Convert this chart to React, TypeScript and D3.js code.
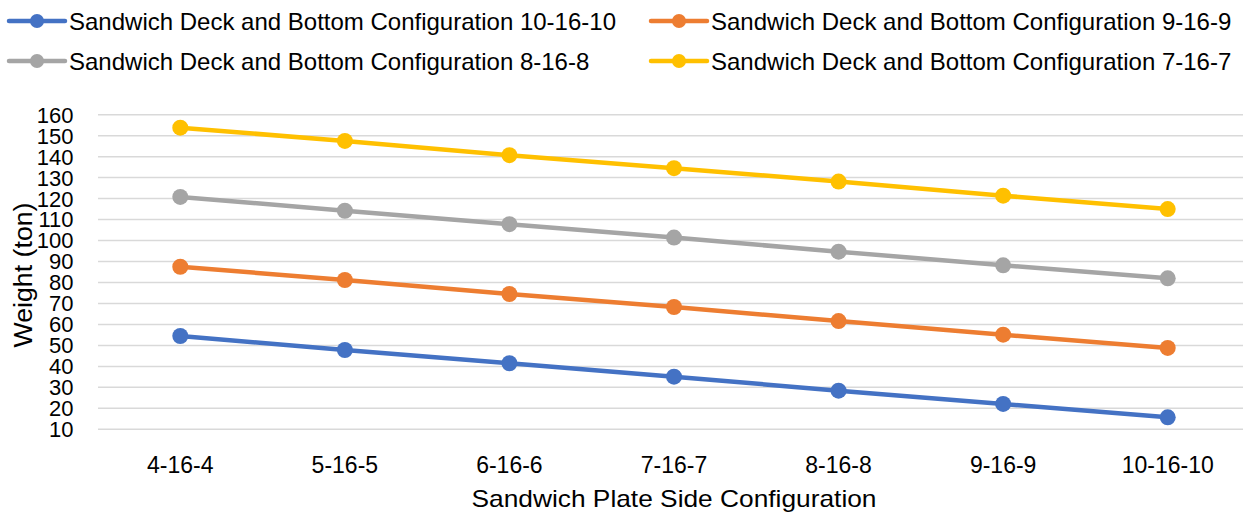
import React from "react";
import * as d3 from "d3";

const categories = ["4-16-4", "5-16-5", "6-16-6", "7-16-7", "8-16-8", "9-16-9", "10-16-10"];
const seriesNames = [
  "Sandwich Deck and Bottom Configuration 10-16-10",
  "Sandwich Deck and Bottom Configuration 9-16-9",
  "Sandwich Deck and Bottom Configuration 8-16-8",
  "Sandwich Deck and Bottom Configuration 7-16-7",
];
const deck10 = [54.5, 47.8, 41.5, 35.1, 28.4, 22.1, 15.7];
const deck9 = [87.5, 81.2, 74.5, 68.3, 61.6, 55.1, 48.8];
const deck8 = [120.8, 114.2, 107.8, 101.4, 94.7, 88.2, 82.0];
const deck7 = [153.8, 147.5, 140.7, 134.5, 128.1, 121.4, 115.0];
const yTicks = [10, 20, 30, 40, 50, 60, 70, 80, 90, 100, 110, 120, 130, 140, 150, 160];
const colors = ["#4472C4", "#ED7D31", "#A5A5A5", "#FFC000"];

const W = 1243;
const H = 513;
const FONT = "Liberation Sans, Arial, sans-serif";

export default function App() {
  const series = [deck10, deck9, deck8, deck7];
  const x = d3.scaleBand<string>().domain(categories).range([98, 1250]);
  const y = d3.scaleLinear().domain([10, 160]).range([429.3, 114.7]);
  const cx = (c: string) => (x(c) ?? 0) + x.bandwidth() / 2;
  const line = d3
    .line<number>()
    .x((_, i) => cx(categories[i]))
    .y((d) => y(d));

  const legendPos = [
    { lx: 9, ly: 21 },
    { lx: 651, ly: 21 },
    { lx: 9, ly: 61 },
    { lx: 651, ly: 61 },
  ];

  return (
    <svg
      width={W}
      height={H}
      style={{ position: "absolute", left: 0, top: 0, background: "#fff" }}
      fontFamily={FONT}
    >
      {/* horizontal gridlines */}
      {yTicks.map((t) => (
        <line key={t} x1={98} x2={W} y1={y(t)} y2={y(t)} stroke="#D9D9D9" strokeWidth={1.5} />
      ))}
      {/* y tick labels */}
      {yTicks.map((t) => (
        <text key={t} x={73.5} y={y(t)} dy="0.36em" textAnchor="end" fontSize={22} fill="#000">
          {t}
        </text>
      ))}
      {/* x tick labels */}
      {categories.map((c) => (
        <text key={c} x={cx(c)} y={465} dy="0.36em" textAnchor="middle" fontSize={23} fill="#000">
          {c}
        </text>
      ))}
      {/* axis titles */}
      <text x={674} y={498} dy="0.36em" textAnchor="middle" fontSize={24} textLength={405} lengthAdjust="spacingAndGlyphs" fill="#000">
        Sandwich Plate Side Configuration
      </text>
      <text
        transform={`translate(23,275) rotate(-90)`}
        dy="0.36em"
        textAnchor="middle"
        fontSize={26}
        textLength={145}
        lengthAdjust="spacingAndGlyphs"
        fill="#000"
      >
        Weight (ton)
      </text>
      {/* series */}
      {series.map((s, si) => (
        <g key={si}>
          <path d={line(s) ?? ""} fill="none" stroke={colors[si]} strokeWidth={4.5} strokeLinejoin="round" />
          {s.map((v, i) => (
            <circle key={i} cx={cx(categories[i])} cy={y(v)} r={8} fill={colors[si]} />
          ))}
        </g>
      ))}
      {/* legend */}
      {seriesNames.map((name, si) => {
        const { lx, ly } = legendPos[si];
        return (
          <g key={name}>
            <line x1={lx} x2={lx + 56} y1={ly} y2={ly} stroke={colors[si]} strokeWidth={4.5} strokeLinecap="round" />
            <circle cx={lx + 28} cy={ly} r={7} fill={colors[si]} />
            <text x={lx + 60} y={ly} dy="0.36em" fontSize={24} fill="#000">
              {name}
            </text>
          </g>
        );
      })}
    </svg>
  );
}
